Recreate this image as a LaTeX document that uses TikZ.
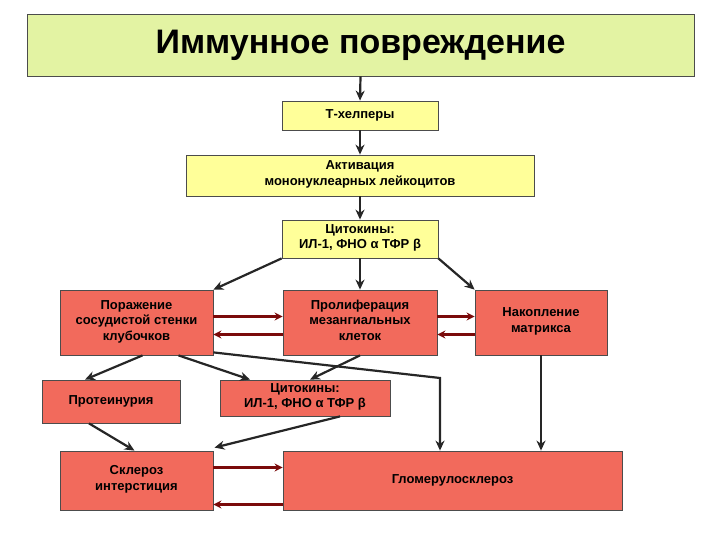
\documentclass[tikz,border=0pt]{standalone}
\usepackage{fontspec}
\setmainfont{Liberation Sans}
\usetikzlibrary{arrows.meta,calc}
\definecolor{salm}{HTML}{F26A5C}
\definecolor{yel}{HTML}{FFFF99}
\definecolor{grn}{HTML}{E3F3A3}
\definecolor{dred}{HTML}{7A0A0A}
\begin{document}
\begin{tikzpicture}[x=1pt,y=-1pt,
 bx/.style={draw=black!70,line width=0.8pt,align=center,font=\bfseries\fontsize{13}{15.5}\selectfont,inner sep=0pt},
 yb/.style={bx,fill=yel},
 rb/.style={bx,fill=salm},
 ar/.style={-{Stealth[length=10pt,width=9pt]},line width=2.2pt,black!85},
 rar/.style={-{Stealth[length=8pt,width=8pt]},line width=2.6pt,dred}]
\useasboundingbox (0,0) rectangle (720,540);
\node[bx,fill=grn,minimum width=667,minimum height=62,font=\bfseries\fontsize{34}{38}\selectfont] (t) at (360.5,45) {Иммунное повреждение};
\node[yb,minimum width=156,minimum height=29] (th) at (360,115.5) {\strut Т-хелперы};
\node[yb,minimum width=348,minimum height=41] (ak) at (360,175.5) {Активация\\мононуклеарных лейкоцитов\strut};
\node[yb,minimum width=156,minimum height=38] (c1) at (360,239) {Цитокины:\\ИЛ-1, ФНО α ТФР β\strut};
\node[rb,minimum width=153,minimum height=65] (po) at (136.5,322.5) {Поражение\\сосудистой стенки\\клубочков\strut};
\node[rb,minimum width=154,minimum height=65] (pr) at (360,322.5) {Пролиферация\\мезангиальных\\клеток\strut};
\node[rb,minimum width=132,minimum height=65] (na) at (541,322.5) {Накопление\\матрикса\strut};
\node[rb,minimum width=138,minimum height=43] (pt) at (111,401.5) {\strut Протеинурия};
\node[rb,minimum width=170,minimum height=36] (c2) at (305,398) {Цитокины:\\ИЛ-1, ФНО α ТФР β\strut};
\node[rb,minimum width=153,minimum height=59] (sk) at (136.5,480.5) {Склероз\\интерстиция\strut};
\node[rb,minimum width=339,minimum height=59] (gl) at (452.5,480.5) {\strut Гломерулосклероз};
\coordinate (bend) at (440,378);
\draw[ar] (t.south) -- (th.north);
\draw[ar] (th.south) -- (ak.north);
\draw[ar] (ak.south) -- (c1.north);
\draw[ar] (c1.south west) -- (po.north east);
\draw[ar] (c1.south) -- (pr.north);
\draw[ar] (c1.south east) -- (na.north west);
\draw[rar] ([yshift=6]po.east) -- ([yshift=6]pr.west);
\draw[rar] ([yshift=-12]pr.west) -- ([yshift=-12]po.east);
\draw[rar] ([yshift=6]pr.east) -- ([yshift=6]na.west);
\draw[rar] ([yshift=-12]na.west) -- ([yshift=-12]pr.east);
\draw[ar] ([xshift=6]po.south) -- ([xshift=-26]pt.north);
\draw[ar] ([xshift=42]po.south) -- ([xshift=-55]c2.north);
\draw[ar] (pr.south) -- ([xshift=5]c2.north);
\draw[ar] ([yshift=3]po.south east) -- (bend) -- (bend|-gl.north);
\draw[ar] (na.south) -- (na.south|-gl.north);
\draw[ar] ([xshift=-22]pt.south) -- ([xshift=-2]sk.north);
\draw[ar] ([xshift=35]c2.south) -- ([xshift=78,yshift=3]sk.north);
\draw[rar] ([yshift=13]sk.east) -- ([yshift=13]gl.west);
\draw[rar] ([yshift=-24]gl.west) -- ([yshift=-24]sk.east);
\end{tikzpicture}
\end{document}
